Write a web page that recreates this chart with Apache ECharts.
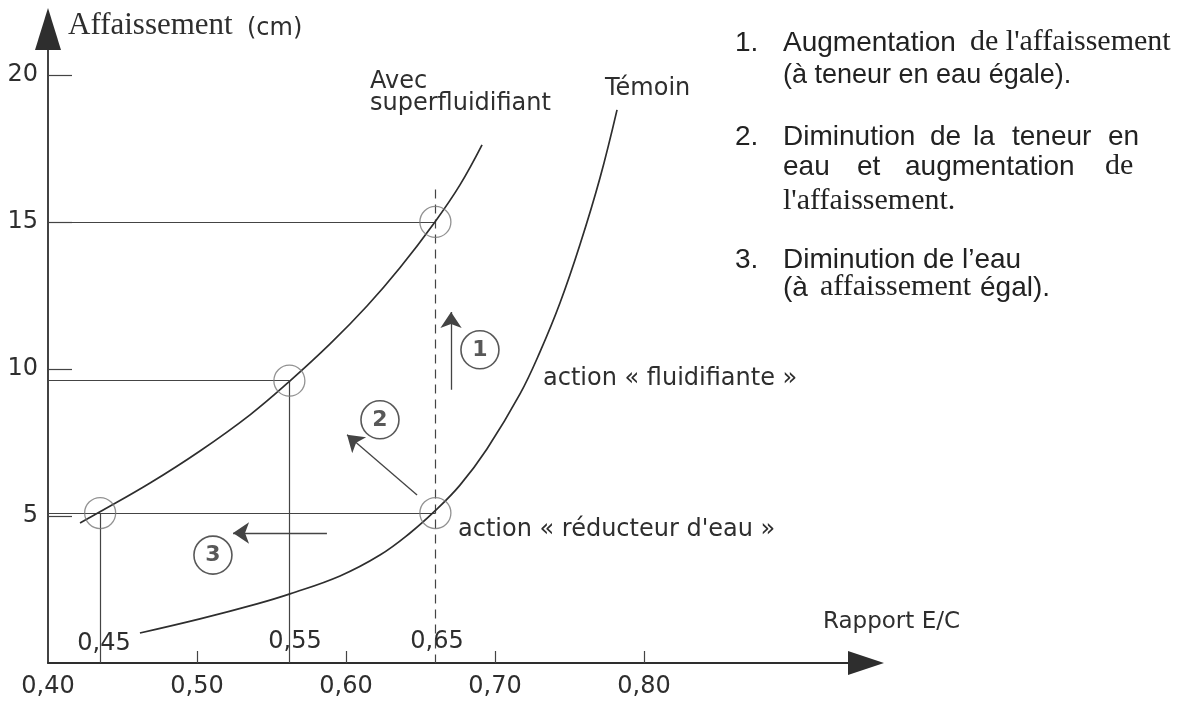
<!DOCTYPE html>
<html>
<head>
<meta charset="utf-8">
<script src="https://cdn.jsdelivr.net/npm/echarts@6/dist/echarts.min.js"></script>
<style>html,body{margin:0;background:#fff}#main{width:1180px;height:704px}</style>
</head>
<body>
<div id="main"></div>
<script>
// courbe "Avec superfluidifiant"
const superX = [0.4215, 0.4349, 0.4685, 0.5020, 0.5356, 0.5617, 0.5893, 0.6141, 0.6362, 0.6597, 0.6765, 0.6913];
const superY = [4.76, 5.14, 6.12, 7.21, 8.44, 9.56, 10.85, 12.14, 13.44, 15.00, 16.26, 17.62];
// courbe "Témoin"
const temoinX = [0.4617, 0.5020, 0.5403, 0.5624, 0.5960, 0.6228, 0.6430, 0.6597, 0.6765, 0.6946, 0.7168, 0.7302, 0.7436, 0.7570, 0.7705, 0.7819];
const temoinY = [1.02, 1.50, 2.01, 2.35, 2.96, 3.67, 4.42, 5.17, 6.05, 7.28, 9.15, 10.58, 12.24, 14.22, 16.50, 18.81];
// points de lecture (rapport E/C, affaissement)
const pointsEC = [0.435, 0.562, 0.66, 0.66];
const pointsAff = [5.1, 9.6, 15.0, 5.1];
const lectureLabels = ['0,45', '0,55', '0,65'];
// graduations
const xTicks = [0.40, 0.50, 0.60, 0.70, 0.80];
const yTicks = [5, 10, 15, 20];
// flèches 1, 2, 3 : départ -> pointe
const fleches = [
  [[0.6705, 9.29], [0.6705, 11.94]],
  [[0.6477, 5.71], [0.6007, 7.76]],
  [[0.5872, 4.42], [0.5242, 4.42]]
];
const bulles = [[0.6899, 10.65, '1'], [0.6228, 8.27, '2'], [0.5107, 3.67, '3']];

const ink = '#2e2e2e';
const sans = 'DejaVu Sans';
const hsans = 'Liberation Sans';
const serif = 'Liberation Serif';

const guides = [
  [[0.40, pointsAff[0]], [pointsEC[3], pointsAff[3]]],
  [[0.40, pointsAff[1]], [pointsEC[1], pointsAff[1]]],
  [[0.40, pointsAff[2]], [pointsEC[2], pointsAff[2]]],
  [[pointsEC[0], pointsAff[0]], [pointsEC[0], 0]],
  [[pointsEC[1], pointsAff[1]], [pointsEC[1], 0]]
];
const pointilles = [[[pointsEC[2], 16.1], [pointsEC[2], 0]]];

// texte posé sur sa ligne de base
function txt(text, x, base, size, family, align, color) {
  return {
    type: 'text', x: x, y: base - 0.36 * size, silent: true,
    style: {text: text, fontSize: size, fontFamily: family, fill: color || ink, align: align || 'left', verticalAlign: 'middle'}
  };
}

const dark = '#222';
const notes = [
  txt('Affaissement', 68, 37, 31, serif),
  txt('(cm)', 247, 37, 24, sans),
  txt('Avec', 370, 90, 24, sans),
  txt('superfluidifiant', 370, 112, 24, sans),
  txt('Témoin', 605, 97, 24, sans),
  txt('action « fluidifiante »', 543, 387, 24, sans),
  txt('action « réducteur d\'eau »', 458, 538, 24, sans),
  txt('Rapport E/C', 823, 630, 23, sans),
  txt(lectureLabels[0], 104, 652, 24, sans, 'center'),
  txt(lectureLabels[1], 295, 650, 24, sans, 'center'),
  txt(lectureLabels[2], 437, 650, 24, sans, 'center'),
  // bloc explicatif
  txt('1.', 735, 53, 28, hsans, 'left', dark),
  txt('Augmentation', 783, 53, 28, hsans, 'left', dark),
  txt('de l\'affaissement', 970, 53, 30, serif, 'left', dark),
  txt('(à teneur en eau égale).', 783, 85, 27, hsans, 'left', dark),
  txt('2.', 735, 147, 28, hsans, 'left', dark),
  txt('Diminution', 783, 147, 28, hsans, 'left', dark),
  txt('de', 930, 147, 28, hsans, 'left', dark),
  txt('la', 973, 147, 28, hsans, 'left', dark),
  txt('teneur', 1012, 147, 28, hsans, 'left', dark),
  txt('en', 1108, 147, 28, hsans, 'left', dark),
  txt('eau', 783, 177, 28, hsans, 'left', dark),
  txt('et', 857, 177, 28, hsans, 'left', dark),
  txt('augmentation', 905, 177, 28, hsans, 'left', dark),
  txt('de', 1105, 177, 30, serif, 'left', dark),
  txt('l\'affaissement.', 783, 212, 30, serif, 'left', dark),
  txt('3.', 735, 270, 28, hsans, 'left', dark),
  txt('Diminution de l’eau', 783, 270, 28, hsans, 'left', dark),
  txt('(à', 783, 298, 28, hsans, 'left', dark),
  txt('affaissement', 820, 298, 30, serif, 'left', dark),
  txt('égal).', 980, 298, 28, hsans, 'left', dark)
];

const chart = echarts.init(document.getElementById('main'));
chart.setOption({
  backgroundColor: '#fff',
  animation: false,
  grid: {left: 48, top: 29, right: 314, bottom: 41, outerBoundsMode: 'none'},
  xAxis: {
    type: 'value', min: 0.40, max: 0.949,
    axisLine: {show: true, symbol: ['none', 'triangle'], symbolSize: [24, 36], lineStyle: {color: ink, width: 1.8}},
    axisTick: {show: true, inside: true, length: 12, customValues: xTicks.slice(1), lineStyle: {color: '#444', width: 1.2}},
    axisLabel: {customValues: xTicks, formatter: v => v.toFixed(2).replace('.', ','), margin: 12, fontSize: 24, fontFamily: sans, color: ink},
    splitLine: {show: false}
  },
  yAxis: {
    type: 'value', min: 0, max: 21.56,
    axisLine: {show: true, symbol: ['none', 'triangle'], symbolSize: [26, 42], lineStyle: {color: ink, width: 1.8}},
    axisTick: {show: true, inside: true, length: 24, customValues: yTicks, lineStyle: {color: '#444', width: 1.2}},
    axisLabel: {customValues: yTicks, margin: 10, fontSize: 24, fontFamily: sans, color: ink},
    splitLine: {show: false}
  },
  graphic: notes,
  series: [
    {
      type: 'lines', coordinateSystem: 'cartesian2d', silent: true, z: 2,
      data: guides.map(c => ({coords: c})),
      lineStyle: {color: '#444', width: 1.2, opacity: 1}
    },
    {
      type: 'lines', coordinateSystem: 'cartesian2d', silent: true, z: 2,
      data: pointilles.map(c => ({coords: c})),
      lineStyle: {color: '#444', width: 1.2, type: [9, 6], opacity: 1}
    },
    {
      name: 'Avec superfluidifiant', type: 'line', smooth: 0.4, showSymbol: false, silent: true, z: 3,
      data: superX.map((x, i) => [x, superY[i]]),
      lineStyle: {color: ink, width: 1.7}
    },
    {
      name: 'Témoin', type: 'line', smooth: 0.4, showSymbol: false, silent: true, z: 3,
      data: temoinX.map((x, i) => [x, temoinY[i]]),
      lineStyle: {color: ink, width: 1.7}
    },
    {
      type: 'scatter', silent: true, z: 4, symbol: 'circle', symbolSize: 31,
      data: pointsEC.map((x, i) => [x, pointsAff[i]]),
      itemStyle: {color: 'rgba(0,0,0,0)', borderColor: '#777', borderWidth: 1.3}
    },
    {
      type: 'lines', coordinateSystem: 'cartesian2d', silent: true, z: 4,
      symbol: ['none', 'arrow'], symbolSize: 16,
      data: fleches.map(c => ({coords: c})),
      lineStyle: {color: '#444', width: 1.3, opacity: 1}
    },
    {
      type: 'scatter', silent: true, z: 4, symbol: 'circle', symbolSize: 38,
      data: bulles.map(b => ({value: [b[0], b[1]], name: b[2]})),
      itemStyle: {color: 'rgba(0,0,0,0)', borderColor: ink, borderWidth: 1.6},
      label: {show: true, position: 'inside', formatter: p => p.name, fontSize: 22, fontWeight: 'bold', fontFamily: sans, color: ink}
    }
  ]
});
</script>
</body>
</html>
